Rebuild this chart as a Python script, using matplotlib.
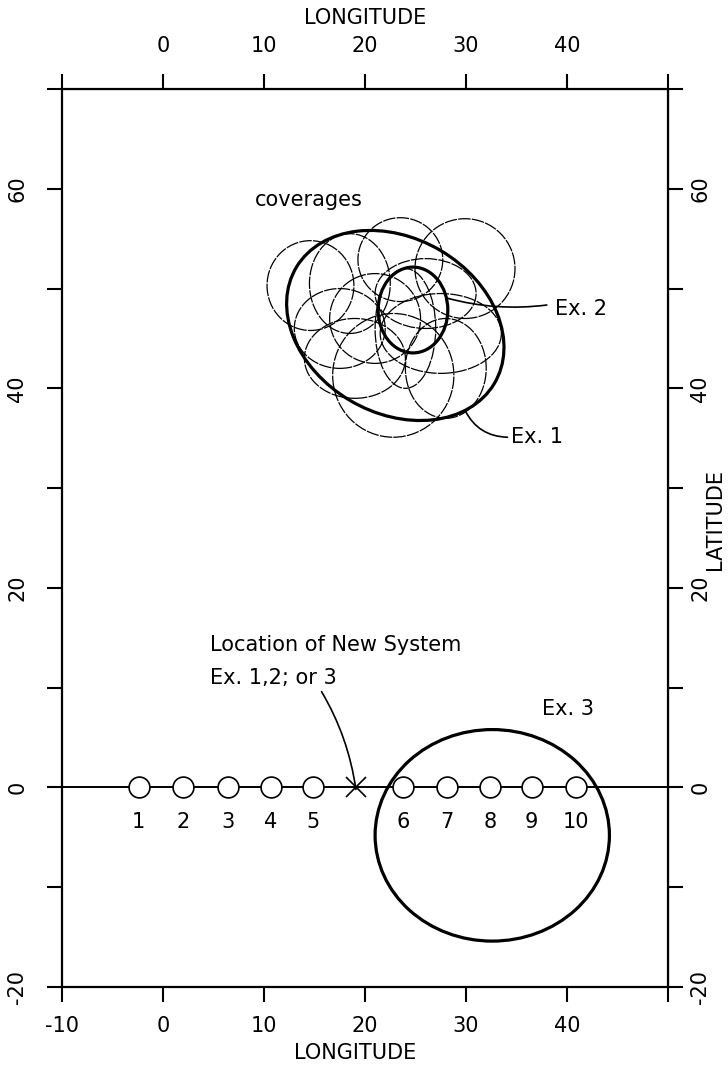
import numpy as np
import matplotlib
matplotlib.use("Agg")
import matplotlib.pyplot as plt
from matplotlib.patches import Ellipse

# station positions along the equator (longitude)
station_lon = [-2.4, 2.0, 6.4, 10.7, 14.9, 23.8, 28.1, 32.4, 36.5, 40.9]
station_lab = ['1', '2', '3', '4', '5', '6', '7', '8', '9', '10']
new_system = (19.1, 0.0)

# thin coverage ellipses: lon, lat, width, height
cov_lon = [14.6, 23.5, 29.9, 22.8, 18.5, 17.5, 27.5, 26.0, 21.0, 28.0, 24.0, 19.0]
cov_lat = [50.3, 52.9, 52.0, 41.3, 50.5, 46.0, 45.5, 49.5, 47.0, 42.0, 46.0, 43.0]
cov_w = [8.6, 8.4, 9.9, 12.0, 8.0, 9.0, 12.0, 10.0, 9.0, 8.0, 6.0, 10.0]
cov_h = [9.0, 8.4, 10.0, 12.4, 10.0, 8.0, 8.0, 7.0, 9.0, 10.0, 12.0, 8.0]

# the three examples: lon, lat, width, height, angle
ex_name = ['Ex. 1', 'Ex. 2', 'Ex. 3']
ex_lon = [23.0, 24.75, 32.6]
ex_lat = [46.3, 47.85, -4.8]
ex_w = [22.8, 6.9, 23.2]
ex_h = [17.5, 8.6, 21.2]
ex_ang = [-31, 0, 0]

fig = plt.figure(figsize=(7.28, 10.79), dpi=100, facecolor='white')
ax = fig.add_axes([62/728, 1-987/1079, 606/728, 898/1079])
ax.set_xlim(-10, 50)
ax.set_ylim(-20, 70)

# coverages
for i in range(len(cov_lon)):
    ax.add_patch(Ellipse((cov_lon[i], cov_lat[i]), cov_w[i], cov_h[i],
                         fill=False, ec='black', lw=0.9, ls=(0, (10, 1))))
for i in range(len(ex_lon)):
    ax.add_patch(Ellipse((ex_lon[i], ex_lat[i]), ex_w[i], ex_h[i], angle=ex_ang[i],
                         fill=False, ec='black', lw=2.3))

# equator and stations
ax.axhline(0, color='black', lw=1.4)
ax.plot(station_lon, np.zeros(len(station_lon)), 'o', ms=15, mfc='white',
        mec='black', mew=1.2)
for x, s in zip(station_lon, station_lab):
    ax.text(x, -3.5, s, fontsize=15, ha='center', va='center')
ax.plot(new_system[0], new_system[1], 'x', ms=15, mec='black', mew=1.2)

# annotations
ax.text(9.1, 58.9, 'coverages', fontsize=15, ha='left', va='center')
ax.text(38.8, 48.0, 'Ex. 2', fontsize=15, ha='left', va='center')
ax.text(34.5, 35.1, 'Ex. 1', fontsize=15, ha='left', va='center')
ax.text(37.5, 7.9, 'Ex. 3', fontsize=15, ha='left', va='center')
ax.text(4.65, 14.3, 'Location of New System', fontsize=15, ha='left', va='center')
ax.text(4.65, 11.0, 'Ex. 1,2; or 3', fontsize=15, ha='left', va='center')

lead = dict(arrowstyle='-', lw=1.2, color='black', shrinkA=0, shrinkB=0)
ax.annotate('', xy=(38.0, 48.35), xytext=(28.1, 49.05),
            arrowprops=dict(lead, connectionstyle='arc3,rad=0.1'))
ax.annotate('', xy=(34.1, 35.1), xytext=(29.9, 37.8),
            arrowprops=dict(lead, connectionstyle='arc3,rad=0.3'))
ax.annotate('', xy=(19.1, -0.2), xytext=(15.7, 9.6),
            arrowprops=dict(lead, connectionstyle='arc3,rad=-0.1'))

# axes
xt = [-10, 0, 10, 20, 30, 40, 50]
xt_bottom = ['-10', '0', '10', '20', '30', '40', '']
xt_top = ['', '0', '10', '20', '30', '40', '']
yt = [-20, -10, 0, 10, 20, 30, 40, 50, 60, 70]
yt_lab = ['-20', '', '0', '', '20', '', '40', '', '60', '']

for sp in ax.spines.values():
    sp.set_linewidth(1.6)

ax.set_xticks(xt)
ax.set_xticklabels(xt_bottom)
ax.set_yticks(yt)
ax.set_yticklabels(yt_lab, rotation=90, va='center')
ax.tick_params(direction='out', length=11, width=1.5, labelsize=15)
ax.tick_params(axis='x', pad=10)
ax.tick_params(axis='y', pad=14)

top = ax.secondary_xaxis('top')
top.set_xticks(xt)
top.set_xticklabels(xt_top)
top.tick_params(direction='out', length=11, width=1.5, labelsize=15, pad=13)

right = ax.secondary_yaxis('right')
right.set_yticks(yt)
right.set_yticklabels(yt_lab, rotation=90, va='center')
right.tick_params(direction='out', length=11, width=1.5, labelsize=15, pad=5)

fig.text(365/728, 1-18/1079, 'LONGITUDE', fontsize=15, ha='center', va='center')
fig.text(355/728, 1-1053/1079, 'LONGITUDE', fontsize=15, ha='center', va='center')
fig.text(715/728, 1-520/1079, 'LATITUDE', fontsize=15, ha='center', va='center',
         rotation=90)

fig.savefig('out.png', dpi=100, facecolor='white')
